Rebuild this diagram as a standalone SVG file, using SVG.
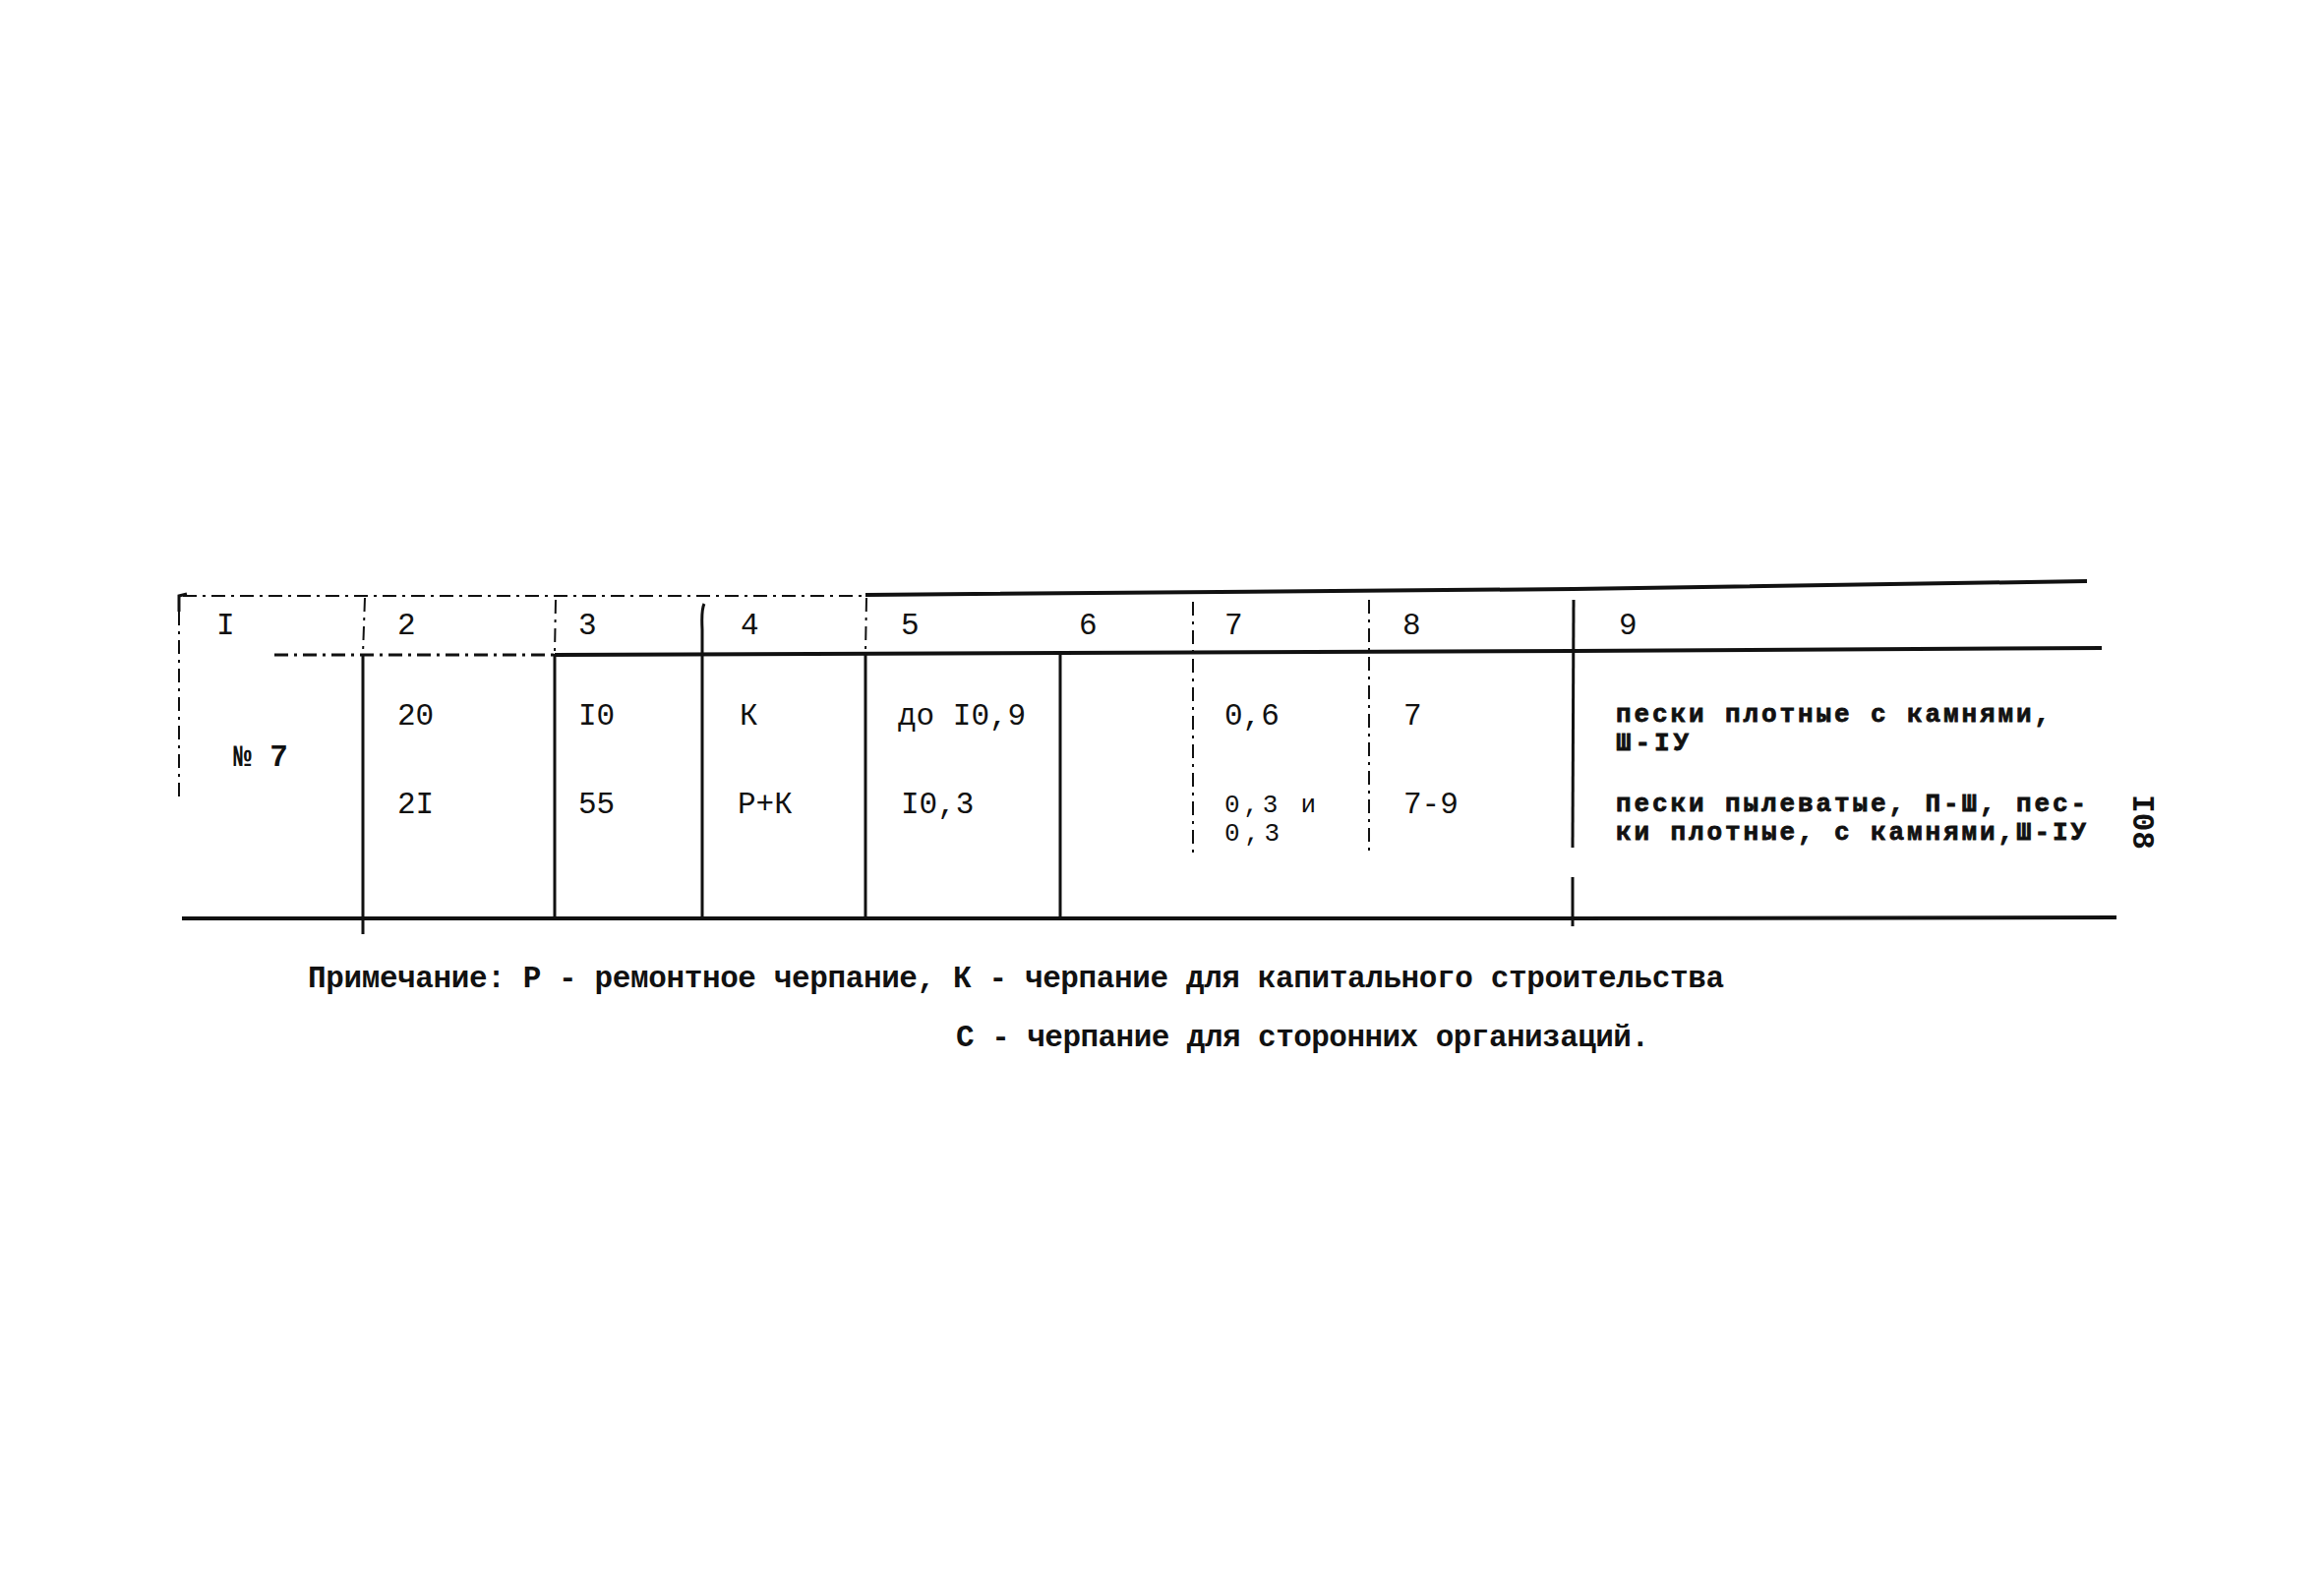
<svg xmlns="http://www.w3.org/2000/svg" width="2363" height="1618" viewBox="0 0 2363 1618">
<style>
.t{font-family:"Liberation Mono","DejaVu Sans Mono",monospace;font-size:31px;fill:#111}
.s{font-size:26px}
.b{font-weight:bold}
.hv{stroke:#111;stroke-width:0.8}
.ln{stroke:#111;fill:none;stroke-linecap:butt}
.thick{stroke-width:4}
.mid{stroke-width:3}
.thin{stroke-width:2}
.dash{stroke-dasharray:14 6 3 6}
</style>
<rect width="2363" height="1618" fill="#fff"/>
<g id="connectors">
<path class="ln thin dash" d="M186 606 L880 606"/>
<path class="ln thick" d="M880 605 L1600 599 L2122 591"/>
<path class="ln mid" d="M182 622 L182 606 L190 604"/>
<path class="ln mid dash" d="M279 666 L564 666"/>
<path class="ln thick" d="M564 666 L1600 662 L2137 659"/>
<path class="ln thick" d="M185 934 L1600 934 L2152 933"/>
<path class="ln thin dash" d="M182 622 L182 815"/>
<path class="ln thin dash" d="M371 608 L369 665"/>
<path class="ln mid" d="M369 665 L369 950"/>
<path class="ln thin dash" d="M565 610 L564 665"/>
<path class="ln mid" d="M564 665 L564 934"/>
<path class="ln mid" d="M716 614 Q713 620 714 640 L714 934"/>
<path class="ln thin dash" d="M881 608 L880 665"/>
<path class="ln mid" d="M880 665 L880 934"/>
<path class="ln mid" d="M1078 665 L1078 934"/>
<path class="ln thin dash" d="M1213 612 L1213 870"/>
<path class="ln thin dash" d="M1392 610 L1392 870"/>
<path class="ln mid" d="M1600 610 L1599 862"/>
<path class="ln mid" d="M1599 892 L1599 942"/>
</g>
<g id="header">
<text class="t" x="220" y="645">I</text>
<text class="t" x="404" y="645">2</text>
<text class="t" x="588" y="645">3</text>
<text class="t" x="753" y="645">4</text>
<text class="t" x="916" y="645">5</text>
<text class="t" x="1097" y="645">6</text>
<text class="t" x="1245" y="645">7</text>
<text class="t" x="1426" y="645">8</text>
<text class="t" x="1646" y="645">9</text>
</g>
<g id="row-label">
<text class="t b" x="237" y="779">№ 7</text>
</g>
<g id="row1">
<text class="t" x="404" y="737">20</text>
<text class="t" x="588" y="737">I0</text>
<text class="t" x="752" y="737">К</text>
<text class="t" x="913" y="737">до I0,9</text>
<text class="t" x="1245" y="737">0,6</text>
<text class="t" x="1427" y="737">7</text>
<text class="t s b hv" x="1643" y="734" textLength="441" lengthAdjust="spacing">пески плотные с камнями,</text>
<text class="t s b hv" x="1643" y="763" textLength="74" lengthAdjust="spacing">Ш-IУ</text>
</g>
<g id="row2">
<text class="t" x="404" y="827">2I</text>
<text class="t" x="588" y="827">55</text>
<text class="t" x="750" y="827">Р+К</text>
<text class="t" x="916" y="827">I0,3</text>
<text class="t s" x="1245" y="826" textLength="93" lengthAdjust="spacing">0,3 и</text>
<text class="t s" x="1245" y="855" textLength="56" lengthAdjust="spacing">0,3</text>
<text class="t" x="1427" y="827">7-9</text>
<text class="t s b hv" x="1643" y="825" textLength="478" lengthAdjust="spacing">пески пылеватые, П-Ш, пес-</text>
<text class="t s b hv" x="1643" y="854" textLength="478" lengthAdjust="spacing">ки плотные, с камнями,Ш-IУ</text>
</g>
<g id="page-number">
<text class="t b" x="2181" y="836" font-size="38" text-anchor="middle" transform="rotate(90 2181 836)" dy="12">I08</text>
</g>
<g id="note">
<text class="t b" x="313" y="1004" textLength="1440" lengthAdjust="spacing">Примечание: Р - ремонтное черпание, К - черпание для капитального строительства</text>
<text class="t b" x="972" y="1064" textLength="705" lengthAdjust="spacing">С - черпание для сторонних организаций.</text>
</g>
</svg>
